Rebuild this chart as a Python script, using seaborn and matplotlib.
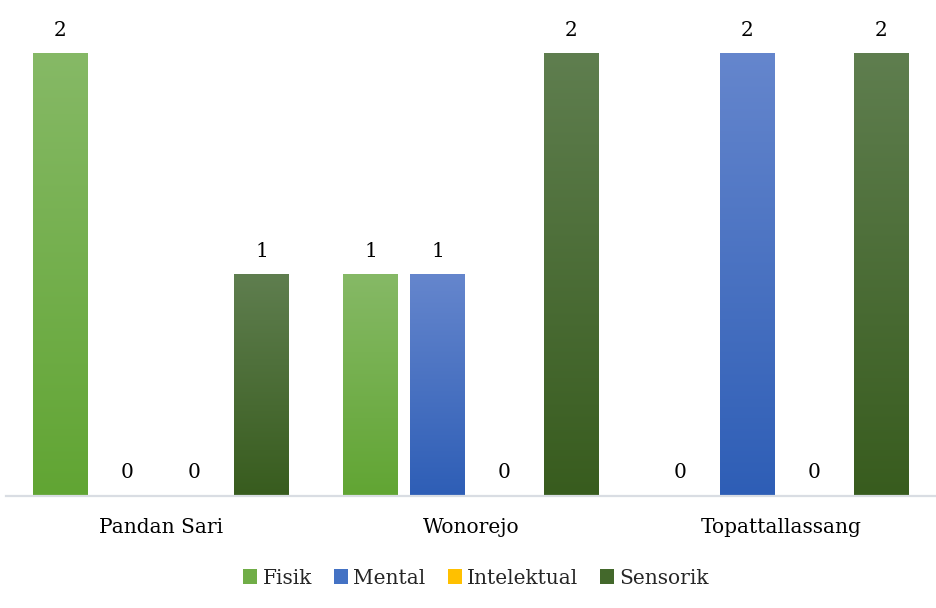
import numpy as np
import pandas as pd
import matplotlib
matplotlib.use("Agg")
import matplotlib.pyplot as plt
from matplotlib.colors import LinearSegmentedColormap
from matplotlib.patches import Patch
import seaborn as sns

# Data
lokasi = ["Pandan Sari", "Wonorejo", "Topattallassang"]
jenis = ["Fisik", "Mental", "Intelektual", "Sensorik"]
fisik = [2, 1, 0]
mental = [0, 1, 2]
intelektual = [0, 0, 0]
sensorik = [1, 2, 2]

# Gradient colours per category (top, bottom)
grad_top = {"Fisik": "#86B966", "Mental": "#6586CD", "Intelektual": "#FFCB3C", "Sensorik": "#5F7E4F"}
grad_bot = {"Fisik": "#61A533", "Mental": "#2E5EB6", "Intelektual": "#FFBF00", "Sensorik": "#385C1E"}
solid = {"Fisik": "#70AD47", "Mental": "#4472C4", "Intelektual": "#FFC000", "Sensorik": "#43682B"}

df = pd.DataFrame({
    "Lokasi": lokasi * 4,
    "Jenis": [j for j in jenis for _ in lokasi],
    "Jumlah": fisik + mental + intelektual + sensorik,
})

sns.set_theme(style="white")
plt.rcParams["font.family"] = ["DejaVu Serif"]

fig = plt.figure(figsize=(9.37, 6.08), dpi=100)
ax = fig.add_axes([6 / 937, 112 / 608, 930 / 937, 443 / 608])

sns.barplot(data=df, x="Lokasi", y="Jumlah", hue="Jenis", order=lokasi, hue_order=jenis,
            palette=solid, width=0.865, gap=0.18, saturation=1, linewidth=0,
            legend=False, ax=ax)

ax.set_xlim(-0.5, 2.5)
ax.set_ylim(0, 2)

# Vertical gradient fill on every bar, plus value labels
for j, cont in zip(jenis, ax.containers):
    cmap = LinearSegmentedColormap.from_list(j, [grad_bot[j], grad_top[j]])
    grad = np.linspace(0, 1, 256).reshape(-1, 1)
    for bar in cont:
        x0, w, h = bar.get_x(), bar.get_width(), bar.get_height()
        if h > 0:
            bar.set_visible(False)
            ax.imshow(grad, cmap=cmap, origin="lower", aspect="auto",
                      extent=(x0, x0 + w, 0, h), zorder=2, interpolation="bicubic")
        ax.annotate(f"{h:g}", (x0 + w / 2, h), xytext=(0, 23), textcoords="offset pixels",
                    ha="center", va="center", fontsize=14.5, color="#000000",
                    annotation_clip=False)

ax.set_xlim(-0.5, 2.5)
ax.set_ylim(0, 2)

for s in ["left", "right", "top"]:
    ax.spines[s].set_visible(False)
ax.spines["bottom"].set_color("#D9DDE3")
ax.spines["bottom"].set_linewidth(1.6)
ax.set_yticks([])
ax.set_xlabel("")
ax.set_ylabel("")
ax.tick_params(axis="x", length=0, pad=16, labelsize=14.5, labelcolor="#000000")

handles = [Patch(facecolor=solid[j], edgecolor="none") for j in jenis]
fig.legend(handles, jenis, loc="center", bbox_to_anchor=(476 / 937, 1 - 578 / 608),
           ncol=4, frameon=False, fontsize=14.5, handlelength=0.7, handleheight=0.7,
           handletextpad=0.25, columnspacing=1.1)

fig.savefig("out.png", dpi=100)
